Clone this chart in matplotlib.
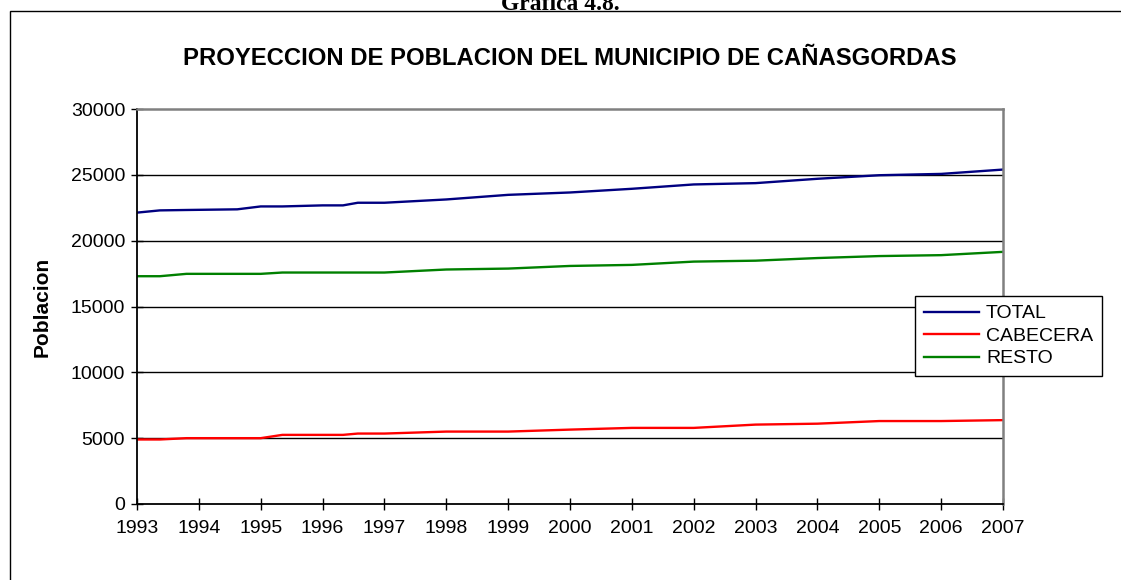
import matplotlib
matplotlib.use("Agg")
import matplotlib.pyplot as plt
from matplotlib.patches import Rectangle

# data
years = [1993, 1993.37, 1993.8, 1994.62, 1995.0, 1995.35, 1996.0, 1996.33, 1996.57, 1997,
         1998, 1999, 2000, 2001, 2002, 2003, 2004, 2005, 2006, 2007]
total = [22130, 22300, 22330, 22380, 22600, 22600, 22680, 22680, 22880, 22880,
         23130, 23480, 23660, 23940, 24270, 24370, 24700, 24970, 25070, 25400]
cabecera = [4900, 4900, 5000, 5000, 5000, 5250, 5250, 5250, 5350, 5350,
            5500, 5500, 5650, 5780, 5780, 6030, 6100, 6300, 6300, 6370]
resto = [17300, 17300, 17480, 17480, 17480, 17580, 17580, 17580, 17580, 17580,
         17810, 17880, 18080, 18160, 18410, 18480, 18680, 18830, 18900, 19150]
year_ticks = list(range(1993, 2008))
y_ticks = [0, 5000, 10000, 15000, 20000, 25000, 30000]

plt.rcParams.update({'font.family': ['Liberation Sans', 'DejaVu Sans']})

fig = plt.figure(figsize=(11.21, 5.80), dpi=100)
W, H = 1121, 580
ax = fig.add_axes([137 / W, 1 - 504 / H, (1003 - 137) / W, (504 - 109) / H])

# outer frame of the chart object
fig.patches.append(Rectangle((10 / W, -0.1), 1.2, 1.1 - 11 / H, transform=fig.transFigure,
                             fill=False, edgecolor='black', linewidth=1.0))
fig.text(0.5, 1 - 10 / H, 'Grafica 4.8.', ha='center', va='baseline', fontsize=17,
         fontweight='bold', family='Liberation Serif')

ax.plot(years, total, color='#000080', lw=1.7, label='TOTAL')
ax.plot(years, cabecera, color='#FF0000', lw=1.7, label='CABECERA')
ax.plot(years, resto, color='#008000', lw=1.7, label='RESTO')

ax.set_xlim(1993, 2007)
ax.set_ylim(0, 30000)
ax.set_xticks(year_ticks)
ax.set_xticklabels([str(y) for y in year_ticks])
ax.set_yticks(y_ticks)
ax.set_yticklabels([str(v) for v in y_ticks])
for v in y_ticks[1:-1]:
    ax.axhline(v, color='black', lw=1.0, zorder=1)

ax.tick_params(axis='both', direction='inout', length=9, width=1.0, labelsize=14, pad=4)
ax.tick_params(axis='x', pad=7)
for spine in ['left', 'bottom']:
    ax.spines[spine].set_linewidth(1.3)
for spine in ['right', 'top']:
    ax.spines[spine].set_color('#808080')
    ax.spines[spine].set_linewidth(1.8)

ax.set_ylabel('Poblacion', fontsize=15, fontweight='bold', labelpad=14)
ax.set_title('PROYECCION DE POBLACION DEL MUNICIPIO DE CAÑASGORDAS',
             fontsize=17.2, fontweight='bold', pad=32)

fig.legend(loc='upper left', bbox_to_anchor=(915 / W, 1 - 296 / H), fontsize=14,
           frameon=True, fancybox=False, edgecolor='black', framealpha=1,
           handlelength=2.85, handletextpad=0.35, labelspacing=0.25,
           borderpad=0.45, borderaxespad=0)

plt.savefig('out.png', dpi=100)
